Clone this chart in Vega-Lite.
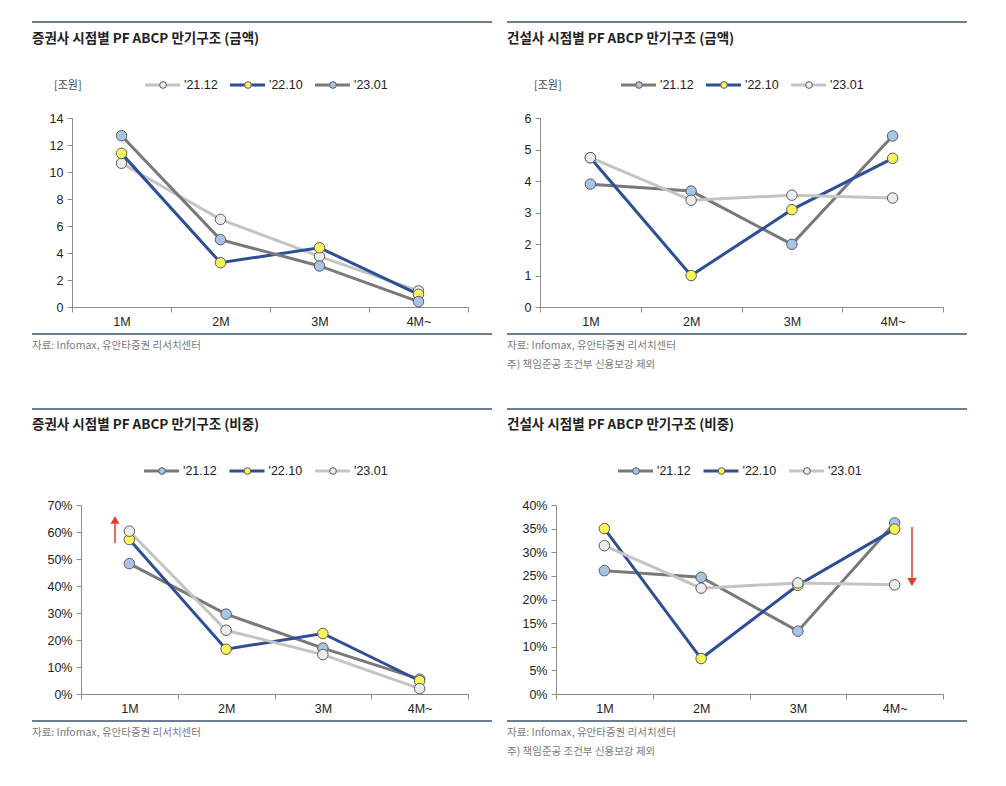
{
"$schema": "https://vega.github.io/schema/vega-lite/v6.json",
"padding": {"left": 31, "top": 21, "right": 0, "bottom": 0},
"background": "white",
"datasets": {
 "series": [{"s": "'21.12"}, {"s": "'22.10"}, {"s": "'23.01"}],
 "p1": [
  {"m": "1M", "s": "'21.12", "v": 10.65}, {"m": "2M", "s": "'21.12", "v": 6.49}, {"m": "3M", "s": "'21.12", "v": 3.75}, {"m": "4M~", "s": "'21.12", "v": 1.19},
  {"m": "1M", "s": "'22.10", "v": 11.38}, {"m": "2M", "s": "'22.10", "v": 3.28}, {"m": "3M", "s": "'22.10", "v": 4.39}, {"m": "4M~", "s": "'22.10", "v": 0.94},
  {"m": "1M", "s": "'23.01", "v": 12.69}, {"m": "2M", "s": "'23.01", "v": 4.99}, {"m": "3M", "s": "'23.01", "v": 3.04}, {"m": "4M~", "s": "'23.01", "v": 0.4}
 ],
 "p2": [
  {"m": "1M", "s": "'21.12", "v": 3.9}, {"m": "2M", "s": "'21.12", "v": 3.68}, {"m": "3M", "s": "'21.12", "v": 1.99}, {"m": "4M~", "s": "'21.12", "v": 5.43},
  {"m": "1M", "s": "'22.10", "v": 4.74}, {"m": "2M", "s": "'22.10", "v": 1.0}, {"m": "3M", "s": "'22.10", "v": 3.09}, {"m": "4M~", "s": "'22.10", "v": 4.72},
  {"m": "1M", "s": "'23.01", "v": 4.74}, {"m": "2M", "s": "'23.01", "v": 3.39}, {"m": "3M", "s": "'23.01", "v": 3.55}, {"m": "4M~", "s": "'23.01", "v": 3.46}
 ],
 "p3": [
  {"m": "1M", "s": "'21.12", "v": 0.483}, {"m": "2M", "s": "'21.12", "v": 0.296}, {"m": "3M", "s": "'21.12", "v": 0.17}, {"m": "4M~", "s": "'21.12", "v": 0.055},
  {"m": "1M", "s": "'22.10", "v": 0.572}, {"m": "2M", "s": "'22.10", "v": 0.166}, {"m": "3M", "s": "'22.10", "v": 0.224}, {"m": "4M~", "s": "'22.10", "v": 0.049},
  {"m": "1M", "s": "'23.01", "v": 0.603}, {"m": "2M", "s": "'23.01", "v": 0.236}, {"m": "3M", "s": "'23.01", "v": 0.146}, {"m": "4M~", "s": "'23.01", "v": 0.02}
 ],
 "p4": [
  {"m": "1M", "s": "'21.12", "v": 0.261}, {"m": "2M", "s": "'21.12", "v": 0.247}, {"m": "3M", "s": "'21.12", "v": 0.133}, {"m": "4M~", "s": "'21.12", "v": 0.362},
  {"m": "1M", "s": "'22.10", "v": 0.35}, {"m": "2M", "s": "'22.10", "v": 0.075}, {"m": "3M", "s": "'22.10", "v": 0.23}, {"m": "4M~", "s": "'22.10", "v": 0.349},
  {"m": "1M", "s": "'23.01", "v": 0.314}, {"m": "2M", "s": "'23.01", "v": 0.224}, {"m": "3M", "s": "'23.01", "v": 0.235}, {"m": "4M~", "s": "'23.01", "v": 0.231}
 ]
},
"columns": 2,
"spacing": {"row": 75, "column": 15},
"bounds": "flush",
"resolve": {"scale": {"stroke": "independent", "fill": "independent"}},
"concat": [
 {
  "width": 460, "height": 312,
  "resolve": {"scale": {"x": "independent", "y": "independent"}},
  "layer": [
   {
    "data": {"name": "p1"},
    "encoding": {
     "x": {"field": "m", "type": "nominal", "bandPosition": 0.5, "sort": null,
      "scale": {"type": "band", "domain": ["1M", "2M", "3M", "4M~"], "range": [40, 436], "paddingInner": 0, "paddingOuter": 0},
      "axis": {"orient": "bottom", "offset": -27, "tickBand": "extent", "title": null, "labelAngle": 0, "labelPadding": 3}},
     "y": {"field": "v", "type": "quantitative",
      "scale": {"domain": [0, 14], "range": [285, 96], "nice": false, "zero": false},
      "axis": {"orient": "left", "offset": -40, "values": [0, 2, 4, 6, 8, 10, 12, 14], "title": null, "labelPadding": 4}}
    },
    "layer": [
     {"mark": {"type": "line", "strokeWidth": 3},
      "encoding": {"stroke": {"field": "s", "type": "nominal", "legend": null, "scale": {"domain": ["'21.12", "'22.10", "'23.01"], "range": ["#c4c4c4", "#2e4e96", "#797979"]}}}},
     {"mark": {"type": "point", "filled": true, "size": 110, "stroke": "#5a5a5a", "strokeWidth": 1, "opacity": 1},
      "encoding": {"fill": {"field": "s", "type": "nominal", "legend": null, "scale": {"domain": ["'21.12", "'22.10", "'23.01"], "range": ["#ececec", "#f6f65a", "#a8c3e8"]}}}}
    ]
   },
   {
    "data": {"name": "series"},
    "encoding": {
     "x": {"field": "s", "type": "nominal", "scale": {"type": "point", "domain": ["'21.12", "'22.10", "'23.01"], "range": [131, 301], "padding": 0}, "axis": null},
     "y": {"datum": 63, "type": "quantitative", "scale": {"domain": [0, 312], "range": [0, 312], "nice": false, "zero": false}, "axis": null}
    },
    "layer": [
     {"mark": {"type": "rule", "strokeWidth": 3, "xOffset": -18, "x2Offset": 17},
      "encoding": {"x2": {"field": "s"}, "stroke": {"field": "s", "type": "nominal", "legend": null, "scale": {"domain": ["'21.12", "'22.10", "'23.01"], "range": ["#c4c4c4", "#2e4e96", "#797979"]}}}},
     {"mark": {"type": "point", "filled": true, "size": 45, "stroke": "#5a5a5a", "strokeWidth": 1, "opacity": 1},
      "encoding": {"fill": {"field": "s", "type": "nominal", "legend": null, "scale": {"domain": ["'21.12", "'22.10", "'23.01"], "range": ["#ececec", "#f6f65a", "#a8c3e8"]}}}},
     {"mark": {"type": "text", "align": "left", "baseline": "middle", "dx": 21, "fontSize": 12.5, "font": "Liberation Sans Narrow, Liberation Sans, sans-serif", "color": "#222"},
      "encoding": {"text": {"field": "s"}}}
    ]
   },
   {
    "data": {"values": [{}]},
    "layer": [
     {"mark": {"type": "rule", "stroke": "#3d5272", "strokeWidth": 1.3}, "encoding": {"y": {"datum": 0, "type": "quantitative", "scale": {"domain": [0, 312], "range": [0, 312], "nice": false, "zero": false}, "axis": null}}},
     {"mark": {"type": "rule", "stroke": "#3d5272", "strokeWidth": 1.3}, "encoding": {"y": {"datum": 312, "type": "quantitative", "axis": null}}},
     {"mark": {"type": "text", "align": "left", "baseline": "middle", "fontSize": 13.5, "fontWeight": "bold", "font": "Noto Sans CJK KR", "color": "#222", "text": "증권사 시점별 PF ABCP 만기구조 (금액)"},
      "encoding": {"x": {"datum": 0, "type": "quantitative", "scale": {"domain": [0, 460], "range": [0, 460], "nice": false, "zero": false}, "axis": null}, "y": {"datum": 17, "type": "quantitative", "axis": null}}},
     {"mark": {"type": "text", "align": "left", "baseline": "middle", "fontSize": 11, "font": "Noto Sans CJK KR", "color": "#444", "text": "[조원]"},
      "encoding": {"x": {"datum": 22, "type": "quantitative", "axis": null}, "y": {"datum": 64, "type": "quantitative", "axis": null}}},
     {"mark": {"type": "text", "align": "left", "baseline": "middle", "fontSize": 10.5, "font": "Noto Sans CJK KR", "color": "#7a7a7a", "text": "자료: Infomax, 유안타증권 리서치센터"},
      "encoding": {"x": {"datum": 0, "type": "quantitative", "axis": null}, "y": {"datum": 324, "type": "quantitative", "axis": null}}}
    ]
   }
  ]
 },
 {
  "width": 460, "height": 312,
  "resolve": {"scale": {"x": "independent", "y": "independent"}},
  "layer": [
   {
    "data": {"name": "p2"},
    "encoding": {
     "x": {"field": "m", "type": "nominal", "bandPosition": 0.5, "sort": null,
      "scale": {"type": "band", "domain": ["1M", "2M", "3M", "4M~"], "range": [33, 436], "paddingInner": 0, "paddingOuter": 0},
      "axis": {"orient": "bottom", "offset": -27, "tickBand": "extent", "title": null, "labelAngle": 0, "labelPadding": 3}},
     "y": {"field": "v", "type": "quantitative",
      "scale": {"domain": [0, 6], "range": [285, 96], "nice": false, "zero": false},
      "axis": {"orient": "left", "offset": -33, "values": [0, 1, 2, 3, 4, 5, 6], "title": null, "labelPadding": 4}}
    },
    "layer": [
     {"mark": {"type": "line", "strokeWidth": 3},
      "encoding": {"stroke": {"field": "s", "type": "nominal", "legend": null, "scale": {"domain": ["'21.12", "'22.10", "'23.01"], "range": ["#797979", "#2e4e96", "#c4c4c4"]}}}},
     {"mark": {"type": "point", "filled": true, "size": 110, "stroke": "#5a5a5a", "strokeWidth": 1, "opacity": 1},
      "encoding": {"fill": {"field": "s", "type": "nominal", "legend": null, "scale": {"domain": ["'21.12", "'22.10", "'23.01"], "range": ["#a8c3e8", "#f6f65a", "#ececec"]}}}}
    ]
   },
   {
    "data": {"name": "series"},
    "encoding": {
     "x": {"field": "s", "type": "nominal", "scale": {"type": "point", "domain": ["'21.12", "'22.10", "'23.01"], "range": [132, 302], "padding": 0}, "axis": null},
     "y": {"datum": 63, "type": "quantitative", "scale": {"domain": [0, 312], "range": [0, 312], "nice": false, "zero": false}, "axis": null}
    },
    "layer": [
     {"mark": {"type": "rule", "strokeWidth": 3, "xOffset": -18, "x2Offset": 17},
      "encoding": {"x2": {"field": "s"}, "stroke": {"field": "s", "type": "nominal", "legend": null, "scale": {"domain": ["'21.12", "'22.10", "'23.01"], "range": ["#797979", "#2e4e96", "#c4c4c4"]}}}},
     {"mark": {"type": "point", "filled": true, "size": 45, "stroke": "#5a5a5a", "strokeWidth": 1, "opacity": 1},
      "encoding": {"fill": {"field": "s", "type": "nominal", "legend": null, "scale": {"domain": ["'21.12", "'22.10", "'23.01"], "range": ["#a8c3e8", "#f6f65a", "#ececec"]}}}},
     {"mark": {"type": "text", "align": "left", "baseline": "middle", "dx": 21, "fontSize": 12.5, "font": "Liberation Sans Narrow, Liberation Sans, sans-serif", "color": "#222"},
      "encoding": {"text": {"field": "s"}}}
    ]
   },
   {
    "data": {"values": [{}]},
    "layer": [
     {"mark": {"type": "rule", "stroke": "#3d5272", "strokeWidth": 1.3}, "encoding": {"y": {"datum": 0, "type": "quantitative", "scale": {"domain": [0, 312], "range": [0, 312], "nice": false, "zero": false}, "axis": null}}},
     {"mark": {"type": "rule", "stroke": "#3d5272", "strokeWidth": 1.3}, "encoding": {"y": {"datum": 312, "type": "quantitative", "axis": null}}},
     {"mark": {"type": "text", "align": "left", "baseline": "middle", "fontSize": 13.5, "fontWeight": "bold", "font": "Noto Sans CJK KR", "color": "#222", "text": "건설사 시점별 PF ABCP 만기구조 (금액)"},
      "encoding": {"x": {"datum": 0, "type": "quantitative", "scale": {"domain": [0, 460], "range": [0, 460], "nice": false, "zero": false}, "axis": null}, "y": {"datum": 17, "type": "quantitative", "axis": null}}},
     {"mark": {"type": "text", "align": "left", "baseline": "middle", "fontSize": 11, "font": "Noto Sans CJK KR", "color": "#444", "text": "[조원]"},
      "encoding": {"x": {"datum": 27, "type": "quantitative", "axis": null}, "y": {"datum": 64, "type": "quantitative", "axis": null}}},
     {"mark": {"type": "text", "align": "left", "baseline": "middle", "fontSize": 10.5, "font": "Noto Sans CJK KR", "color": "#7a7a7a", "text": "자료: Infomax, 유안타증권 리서치센터"},
      "encoding": {"x": {"datum": 0, "type": "quantitative", "axis": null}, "y": {"datum": 324, "type": "quantitative", "axis": null}}},
     {"mark": {"type": "text", "align": "left", "baseline": "middle", "fontSize": 10.5, "font": "Noto Sans CJK KR", "color": "#7a7a7a", "text": "주) 책임준공 조건부 신용보강 제외"},
      "encoding": {"x": {"datum": 0, "type": "quantitative", "axis": null}, "y": {"datum": 343, "type": "quantitative", "axis": null}}}
    ]
   }
  ]
 },
 {
  "width": 460, "height": 312,
  "resolve": {"scale": {"x": "independent", "y": "independent"}},
  "layer": [
   {
    "data": {"name": "p3"},
    "encoding": {
     "x": {"field": "m", "type": "nominal", "bandPosition": 0.5, "sort": null,
      "scale": {"type": "band", "domain": ["1M", "2M", "3M", "4M~"], "range": [49, 436], "paddingInner": 0, "paddingOuter": 0},
      "axis": {"orient": "bottom", "offset": -27, "tickBand": "extent", "title": null, "labelAngle": 0, "labelPadding": 3}},
     "y": {"field": "v", "type": "quantitative",
      "scale": {"domain": [0, 0.7], "range": [285, 96], "nice": false, "zero": false},
      "axis": {"orient": "left", "offset": -49, "values": [0, 0.1, 0.2, 0.3, 0.4, 0.5, 0.6, 0.7], "format": ".0%", "title": null, "labelPadding": 4}}
    },
    "layer": [
     {"mark": {"type": "line", "strokeWidth": 3},
      "encoding": {"stroke": {"field": "s", "type": "nominal", "legend": null, "scale": {"domain": ["'21.12", "'22.10", "'23.01"], "range": ["#797979", "#2e4e96", "#c4c4c4"]}}}},
     {"mark": {"type": "point", "filled": true, "size": 110, "stroke": "#5a5a5a", "strokeWidth": 1, "opacity": 1},
      "encoding": {"fill": {"field": "s", "type": "nominal", "legend": null, "scale": {"domain": ["'21.12", "'22.10", "'23.01"], "range": ["#a8c3e8", "#f6f65a", "#ececec"]}}}}
    ]
   },
   {
    "data": {"name": "series"},
    "encoding": {
     "x": {"field": "s", "type": "nominal", "scale": {"type": "point", "domain": ["'21.12", "'22.10", "'23.01"], "range": [130, 301], "padding": 0}, "axis": null},
     "y": {"datum": 62, "type": "quantitative", "scale": {"domain": [0, 312], "range": [0, 312], "nice": false, "zero": false}, "axis": null}
    },
    "layer": [
     {"mark": {"type": "rule", "strokeWidth": 3, "xOffset": -18, "x2Offset": 17},
      "encoding": {"x2": {"field": "s"}, "stroke": {"field": "s", "type": "nominal", "legend": null, "scale": {"domain": ["'21.12", "'22.10", "'23.01"], "range": ["#797979", "#2e4e96", "#c4c4c4"]}}}},
     {"mark": {"type": "point", "filled": true, "size": 45, "stroke": "#5a5a5a", "strokeWidth": 1, "opacity": 1},
      "encoding": {"fill": {"field": "s", "type": "nominal", "legend": null, "scale": {"domain": ["'21.12", "'22.10", "'23.01"], "range": ["#a8c3e8", "#f6f65a", "#ececec"]}}}},
     {"mark": {"type": "text", "align": "left", "baseline": "middle", "dx": 21, "fontSize": 12.5, "font": "Liberation Sans Narrow, Liberation Sans, sans-serif", "color": "#222"},
      "encoding": {"text": {"field": "s"}}}
    ]
   },
   {
    "data": {"values": [{}]},
    "layer": [
     {"mark": {"type": "rule", "stroke": "#3d5272", "strokeWidth": 1.3}, "encoding": {"y": {"datum": 0, "type": "quantitative", "scale": {"domain": [0, 312], "range": [0, 312], "nice": false, "zero": false}, "axis": null}}},
     {"mark": {"type": "rule", "stroke": "#3d5272", "strokeWidth": 1.3}, "encoding": {"y": {"datum": 312, "type": "quantitative", "axis": null}}},
     {"mark": {"type": "text", "align": "left", "baseline": "middle", "fontSize": 13.5, "fontWeight": "bold", "font": "Noto Sans CJK KR", "color": "#222", "text": "증권사 시점별 PF ABCP 만기구조 (비중)"},
      "encoding": {"x": {"datum": 0, "type": "quantitative", "scale": {"domain": [0, 460], "range": [0, 460], "nice": false, "zero": false}, "axis": null}, "y": {"datum": 16, "type": "quantitative", "axis": null}}},
     {"mark": {"type": "rule", "stroke": "#e23b2e", "strokeWidth": 1.5},
      "encoding": {"x": {"datum": 83, "type": "quantitative", "axis": null}, "y": {"datum": 134, "type": "quantitative", "axis": null}, "y2": {"datum": 115}}},
     {"mark": {"type": "point", "shape": "triangle-up", "filled": true, "size": 80, "color": "#e23b2e", "opacity": 1},
      "encoding": {"x": {"datum": 83, "type": "quantitative", "axis": null}, "y": {"datum": 111, "type": "quantitative", "axis": null}}},
     {"mark": {"type": "text", "align": "left", "baseline": "middle", "fontSize": 10.5, "font": "Noto Sans CJK KR", "color": "#7a7a7a", "text": "자료: Infomax, 유안타증권 리서치센터"},
      "encoding": {"x": {"datum": 0, "type": "quantitative", "axis": null}, "y": {"datum": 324, "type": "quantitative", "axis": null}}}
    ]
   }
  ]
 },
 {
  "width": 460, "height": 312,
  "resolve": {"scale": {"x": "independent", "y": "independent"}},
  "layer": [
   {
    "data": {"name": "p4"},
    "encoding": {
     "x": {"field": "m", "type": "nominal", "bandPosition": 0.5, "sort": null,
      "scale": {"type": "band", "domain": ["1M", "2M", "3M", "4M~"], "range": [49, 436], "paddingInner": 0, "paddingOuter": 0},
      "axis": {"orient": "bottom", "offset": -27, "tickBand": "extent", "title": null, "labelAngle": 0, "labelPadding": 3}},
     "y": {"field": "v", "type": "quantitative",
      "scale": {"domain": [0, 0.4], "range": [285, 96], "nice": false, "zero": false},
      "axis": {"orient": "left", "offset": -49, "values": [0, 0.05, 0.1, 0.15, 0.2, 0.25, 0.3, 0.35, 0.4], "format": ".0%", "title": null, "labelPadding": 4}}
    },
    "layer": [
     {"mark": {"type": "line", "strokeWidth": 3},
      "encoding": {"stroke": {"field": "s", "type": "nominal", "legend": null, "scale": {"domain": ["'21.12", "'22.10", "'23.01"], "range": ["#797979", "#2e4e96", "#c4c4c4"]}}}},
     {"mark": {"type": "point", "filled": true, "size": 110, "stroke": "#5a5a5a", "strokeWidth": 1, "opacity": 1},
      "encoding": {"fill": {"field": "s", "type": "nominal", "legend": null, "scale": {"domain": ["'21.12", "'22.10", "'23.01"], "range": ["#a8c3e8", "#f6f65a", "#ececec"]}}}}
    ]
   },
   {
    "data": {"name": "series"},
    "encoding": {
     "x": {"field": "s", "type": "nominal", "scale": {"type": "point", "domain": ["'21.12", "'22.10", "'23.01"], "range": [129, 300], "padding": 0}, "axis": null},
     "y": {"datum": 62, "type": "quantitative", "scale": {"domain": [0, 312], "range": [0, 312], "nice": false, "zero": false}, "axis": null}
    },
    "layer": [
     {"mark": {"type": "rule", "strokeWidth": 3, "xOffset": -18, "x2Offset": 17},
      "encoding": {"x2": {"field": "s"}, "stroke": {"field": "s", "type": "nominal", "legend": null, "scale": {"domain": ["'21.12", "'22.10", "'23.01"], "range": ["#797979", "#2e4e96", "#c4c4c4"]}}}},
     {"mark": {"type": "point", "filled": true, "size": 45, "stroke": "#5a5a5a", "strokeWidth": 1, "opacity": 1},
      "encoding": {"fill": {"field": "s", "type": "nominal", "legend": null, "scale": {"domain": ["'21.12", "'22.10", "'23.01"], "range": ["#a8c3e8", "#f6f65a", "#ececec"]}}}},
     {"mark": {"type": "text", "align": "left", "baseline": "middle", "dx": 21, "fontSize": 12.5, "font": "Liberation Sans Narrow, Liberation Sans, sans-serif", "color": "#222"},
      "encoding": {"text": {"field": "s"}}}
    ]
   },
   {
    "data": {"values": [{}]},
    "layer": [
     {"mark": {"type": "rule", "stroke": "#3d5272", "strokeWidth": 1.3}, "encoding": {"y": {"datum": 0, "type": "quantitative", "scale": {"domain": [0, 312], "range": [0, 312], "nice": false, "zero": false}, "axis": null}}},
     {"mark": {"type": "rule", "stroke": "#3d5272", "strokeWidth": 1.3}, "encoding": {"y": {"datum": 312, "type": "quantitative", "axis": null}}},
     {"mark": {"type": "text", "align": "left", "baseline": "middle", "fontSize": 13.5, "fontWeight": "bold", "font": "Noto Sans CJK KR", "color": "#222", "text": "건설사 시점별 PF ABCP 만기구조 (비중)"},
      "encoding": {"x": {"datum": 0, "type": "quantitative", "scale": {"domain": [0, 460], "range": [0, 460], "nice": false, "zero": false}, "axis": null}, "y": {"datum": 16, "type": "quantitative", "axis": null}}},
     {"mark": {"type": "rule", "stroke": "#e23b2e", "strokeWidth": 1.5},
      "encoding": {"x": {"datum": 405, "type": "quantitative", "axis": null}, "y": {"datum": 118, "type": "quantitative", "axis": null}, "y2": {"datum": 170}}},
     {"mark": {"type": "point", "shape": "triangle-down", "filled": true, "size": 90, "color": "#e23b2e", "opacity": 1},
      "encoding": {"x": {"datum": 405, "type": "quantitative", "axis": null}, "y": {"datum": 173, "type": "quantitative", "axis": null}}},
     {"mark": {"type": "text", "align": "left", "baseline": "middle", "fontSize": 10.5, "font": "Noto Sans CJK KR", "color": "#7a7a7a", "text": "자료: Infomax, 유안타증권 리서치센터"},
      "encoding": {"x": {"datum": 0, "type": "quantitative", "axis": null}, "y": {"datum": 324, "type": "quantitative", "axis": null}}},
     {"mark": {"type": "text", "align": "left", "baseline": "middle", "fontSize": 10.5, "font": "Noto Sans CJK KR", "color": "#7a7a7a", "text": "주) 책임준공 조건부 신용보강 제외"},
      "encoding": {"x": {"datum": 0, "type": "quantitative", "axis": null}, "y": {"datum": 343, "type": "quantitative", "axis": null}}}
    ]
   }
  ]
 }
],
"config": {
 "view": {"stroke": null},
 "axis": {"domainColor": "#8c8c8c", "tickColor": "#8c8c8c", "labelColor": "#222", "labelFont": "Liberation Sans Narrow, Liberation Sans, sans-serif", "labelFontSize": 12.5, "grid": false, "tickSize": 5, "domainWidth": 1, "tickWidth": 1}
}
}
